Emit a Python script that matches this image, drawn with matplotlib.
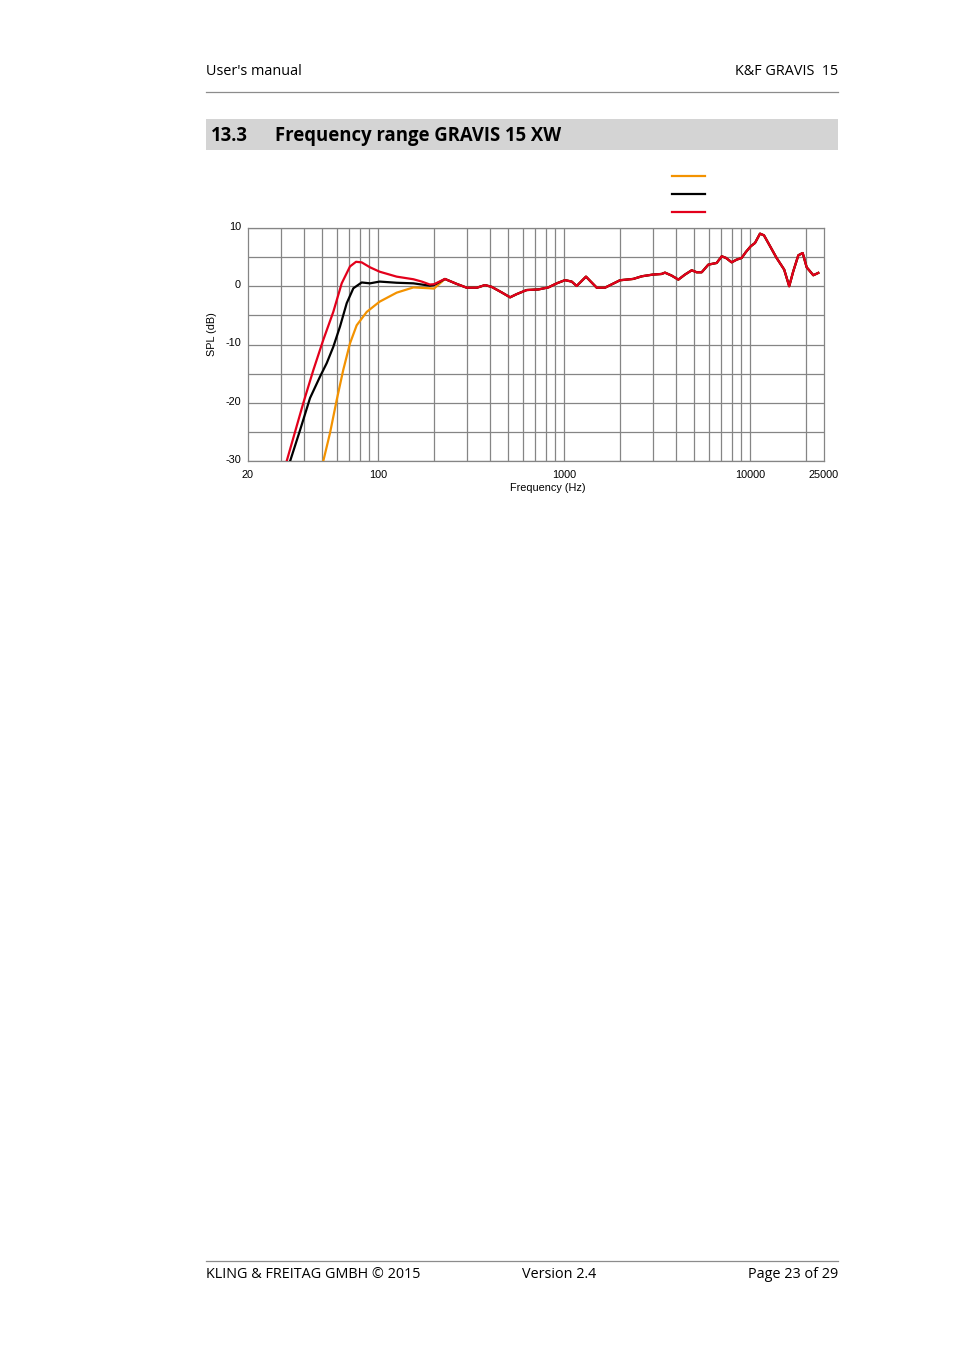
import numpy as np
import matplotlib
matplotlib.use("Agg")
import matplotlib.pyplot as plt
import matplotlib.transforms as mtransforms
from matplotlib.patches import Rectangle
from matplotlib.lines import Line2D

# ---------------- data ----------------
# low-frequency part of each curve (Hz, dB)
red_low_f   = [31.5, 32.3, 39.7, 44.9, 50.8, 57.5, 63.8, 70.7, 76.2, 81.7, 90.6, 102, 126, 155, 172, 190, 200]
red_low_db  = [-31, -30, -20, -14.4, -9.2, -4.4, 0.5, 3.4, 4.2, 4.1, 3.25, 2.5, 1.65, 1.2, 0.8, 0.3, 0.35]

black_low_f  = [33.0, 33.7, 38.1, 43.1, 48.8, 53.0, 57.5, 62.5, 67.9, 73.7, 81.7, 90.6, 102, 126, 155, 190, 200]
black_low_db = [-31, -30, -24.7, -19.2, -15.5, -13.2, -10.4, -6.9, -2.9, -0.35, 0.65, 0.5, 0.8, 0.6, 0.5, 0.1, 0.2]

orange_low_f  = [50.3, 50.8, 55.2, 60.0, 65.0, 70.7, 76.8, 87.0, 102, 126, 155, 190, 200]
orange_low_db = [-31, -30, -25.2, -19.5, -14.4, -9.8, -6.7, -4.4, -2.65, -1.1, -0.2, -0.35, -0.4]

# common part (all three curves coincide above ~230 Hz)
common_f  = [229, 265, 300, 340, 376, 408, 462, 513, 557, 630, 728, 824, 914, 1013, 1100, 1170,
             1313, 1500, 1660, 2000, 2360, 2620, 3000, 3350, 3490, 3790, 4120, 4470, 4860, 5170,
             5500, 5970, 6620, 7050, 7430, 7970, 8480, 9020, 9510, 10090, 10640, 11320, 11890,
             12540, 13900, 15270, 16250, 17090, 18190, 19200, 20170, 21900, 23290]
common_db = [1.25, 0.4, -0.25, -0.25, 0.2, -0.1, -1.05, -1.9, -1.35, -0.65, -0.55, -0.2, 0.5, 1.05,
             0.8, 0.05, 1.65, -0.25, -0.25, 1.03, 1.26, 1.71, 2.0, 2.11, 2.34, 1.83, 1.14, 2.0,
             2.74, 2.4, 2.4, 3.71, 4.0, 5.14, 4.86, 4.11, 4.57, 4.86, 5.89, 6.86, 7.43, 9.03,
             8.74, 7.43, 4.86, 2.86, 0.0, 2.57, 5.31, 5.71, 3.26, 1.89, 2.29]

x_ticks = [20, 100, 1000, 10000, 25000]
x_ticklabels = ["20", "100", "1000", "10000", "25000"]
x_grid = [30, 40, 50, 60, 70, 80, 90, 100, 200, 300, 400, 500, 600, 700, 800, 900,
          1000, 2000, 3000, 4000, 5000, 6000, 7000, 8000, 9000, 10000, 20000]
y_ticks = [-30, -25, -20, -15, -10, -5, 0, 5, 10]
y_ticklabels = ["-30", "", "-20", "", "-10", "", "0", "", "10"]

# ---------------- figure ----------------
W, H = 954, 1350
fig = plt.figure(figsize=(W / 100, H / 100), dpi=100)

def fx(px):
    return px / W

def fy(py):
    return 1 - py / H

page_font = ["Open Sans", "DejaVu Sans"]
chart_font = ["Liberation Sans", "DejaVu Sans"]
pfs = 10.4

# header
fig.text(fx(206), fy(71.5), "User's manual", family=page_font, fontsize=pfs, ha="left", va="center")
fig.text(fx(838), fy(71.5), "K&F GRAVIS  15", family=page_font, fontsize=pfs, ha="right", va="center")
fig.add_artist(Line2D([fx(206), fx(838)], [fy(92), fy(92)], color="#8c8c8c", lw=0.9))

# section band
fig.patches.append(Rectangle((fx(206), fy(150)), fx(838) - fx(206), fy(119) - fy(150),
                             transform=fig.transFigure, facecolor="#d4d4d4", edgecolor="none", zorder=0))
fig.text(fx(211), fy(136), "13.3", family=page_font, fontsize=13.35, fontweight="bold", ha="left", va="center")
fig.text(fx(275), fy(136), "Frequency range GRAVIS 15 XW", family=page_font, fontsize=13.35,
         fontweight="bold", ha="left", va="center")

# footer
fig.add_artist(Line2D([fx(206), fx(838)], [fy(1261), fy(1261)], color="#8c8c8c", lw=0.9))
fig.text(fx(206), fy(1274.5), "KLING & FREITAG GMBH © 2015", family=page_font, fontsize=pfs, ha="left", va="center")
fig.text(fx(559), fy(1274.5), "Version 2.4", family=page_font, fontsize=pfs, ha="center", va="center")
fig.text(fx(838), fy(1274.5), "Page 23 of 29", family=page_font, fontsize=pfs, ha="right", va="center")

# chart axes
ax = fig.add_axes([fx(248), fy(461), fx(824) - fx(248), fy(228) - fy(461)])
ax.set_xscale("log")
ax.set_xlim(20, 25000)
ax.set_ylim(-30, 10)

grid_c = "#858585"
for gx in x_grid:
    ax.axvline(gx, color=grid_c, lw=0.9, zorder=1)
for gy in y_ticks:
    ax.axhline(gy, color=grid_c, lw=0.9, zorder=1)
for s in ax.spines.values():
    s.set_color(grid_c)
    s.set_linewidth(0.9)

ax.set_xticks(x_ticks)
ax.set_xticklabels(x_ticklabels)
ax.xaxis.set_minor_locator(matplotlib.ticker.NullLocator())
ax.set_yticks(y_ticks)
ax.set_yticklabels(y_ticklabels)
ax.tick_params(length=0, labelsize=7.8, pad=5)
ax.tick_params(axis="x", pad=6.5)
for lab in ax.get_xticklabels() + ax.get_yticklabels():
    lab.set_family(chart_font)

# y tick labels sit ~2 px above their grid lines
up = mtransforms.ScaledTranslation(0, 2 / 100, fig.dpi_scale_trans)
for lab in ax.get_yticklabels():
    lab.set_transform(lab.get_transform() + up)

ax.set_xlabel("Frequency (Hz)", family=chart_font, fontsize=7.8)
ax.xaxis.set_label_coords((548 - 248) / 576, (461 - 483) / 233)
ax.set_ylabel("SPL (dB)", family=chart_font, fontsize=7.8)
ax.yaxis.set_label_coords((217 - 248) / 576, (461 - 334) / 233)

c_orange = "#F39200"
c_black = "#000000"
c_red = "#E3001B"

f_or = orange_low_f + common_f
d_or = orange_low_db + common_db
f_bk = black_low_f + common_f
d_bk = black_low_db + common_db
f_rd = red_low_f + common_f
d_rd = red_low_db + common_db

l_or, = ax.plot(f_or, d_or, color=c_orange, lw=1.6, zorder=3, clip_on=True)
l_bk, = ax.plot(f_bk, d_bk, color=c_black, lw=1.6, zorder=4, clip_on=True)
l_rd, = ax.plot(f_rd, d_rd, color=c_red, lw=1.6, zorder=5, clip_on=True)

fig.legend([l_or, l_bk, l_rd], [" ", " ", " "], loc="upper left",
           bbox_to_anchor=(fx(672), fy(170)), frameon=False, fontsize=10,
           handlelength=2.35, handletextpad=0, borderpad=0, borderaxespad=0,
           labelspacing=0.29)

fig.savefig("out.png", dpi=100)
